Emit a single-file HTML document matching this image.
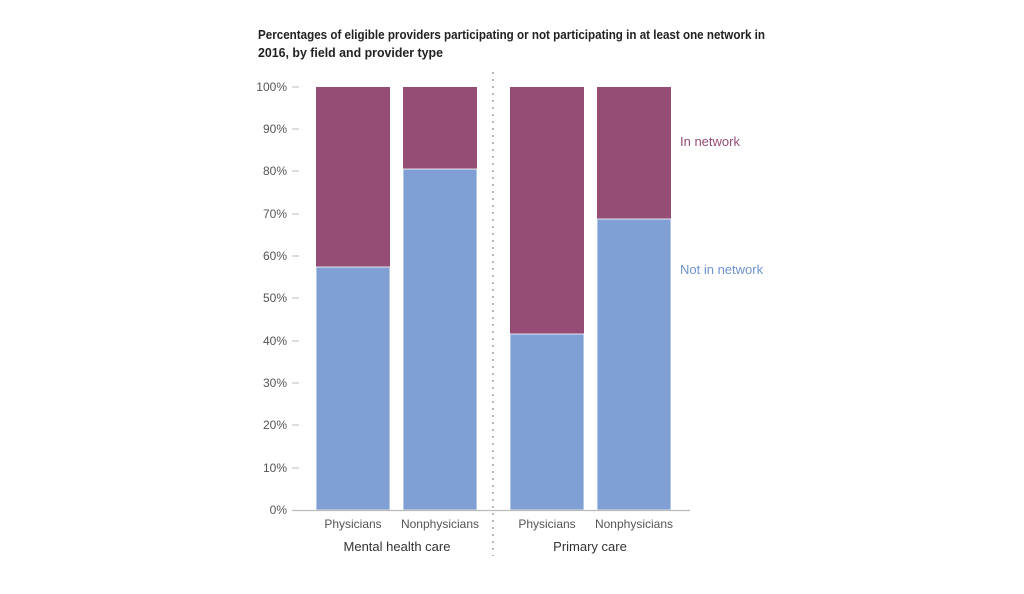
<!DOCTYPE html>
<html><head><style>body{margin:0;background:#fff}svg{display:block}</style></head>
<body>
<svg width="1024" height="594" xmlns="http://www.w3.org/2000/svg" font-family="Liberation Sans, sans-serif">
<text x="258" y="39" font-size="13" font-weight="bold" fill="#222" textLength="507" lengthAdjust="spacingAndGlyphs">Percentages of eligible providers participating or not participating in at least one network in</text>
<text x="258" y="57" font-size="13" font-weight="bold" fill="#222" textLength="185" lengthAdjust="spacingAndGlyphs">2016, by field and provider type</text>
<g font-size="12" fill="#555" text-anchor="end">
<text x="287" y="514">0%</text><text x="287" y="472">10%</text><text x="287" y="429">20%</text><text x="287" y="387">30%</text><text x="287" y="345">40%</text><text x="287" y="302">50%</text><text x="287" y="260">60%</text><text x="287" y="218">70%</text><text x="287" y="175">80%</text><text x="287" y="133">90%</text><text x="287" y="91">100%</text>
</g>
<g stroke="#bbb" stroke-width="1">
<line x1="292" y1="87" x2="299" y2="87"/><line x1="292" y1="129" x2="299" y2="129"/><line x1="292" y1="171" x2="299" y2="171"/><line x1="292" y1="214" x2="299" y2="214"/><line x1="292" y1="256" x2="299" y2="256"/><line x1="292" y1="298" x2="299" y2="298"/><line x1="292" y1="341" x2="299" y2="341"/><line x1="292" y1="383" x2="299" y2="383"/><line x1="292" y1="425" x2="299" y2="425"/><line x1="292" y1="468" x2="299" y2="468"/>
</g>
<g fill="#964d75">
<rect x="316" y="87" width="74" height="423"/><rect x="403" y="87" width="74" height="423"/><rect x="510" y="87" width="74" height="423"/><rect x="597" y="87" width="74" height="423"/>
</g>
<g fill="#7f9fd5" stroke="#fff" stroke-width="0.8">
<rect x="316" y="267" width="74" height="243"/><rect x="403" y="169" width="74" height="341"/><rect x="510" y="334" width="74" height="176"/><rect x="597" y="219" width="74" height="291"/>
</g>
<line x1="292" y1="510.5" x2="690" y2="510.5" stroke="#bbb" stroke-width="1.2"/>
<line x1="493" y1="72" x2="493" y2="556" stroke="#888" stroke-width="1.2" stroke-dasharray="2,5"/>
<g font-size="12" fill="#555" text-anchor="middle">
<text x="353" y="528">Physicians</text><text x="440" y="528">Nonphysicians</text><text x="547" y="528">Physicians</text><text x="634" y="528">Nonphysicians</text>
</g>
<g font-size="13" fill="#333" text-anchor="middle">
<text x="397" y="551">Mental health care</text><text x="590" y="551">Primary care</text>
</g>
<text x="680" y="146" font-size="13" fill="#964d75">In network</text>
<text x="680" y="274" font-size="13" fill="#6f93d0">Not in network</text>
</svg>
</body></html>
